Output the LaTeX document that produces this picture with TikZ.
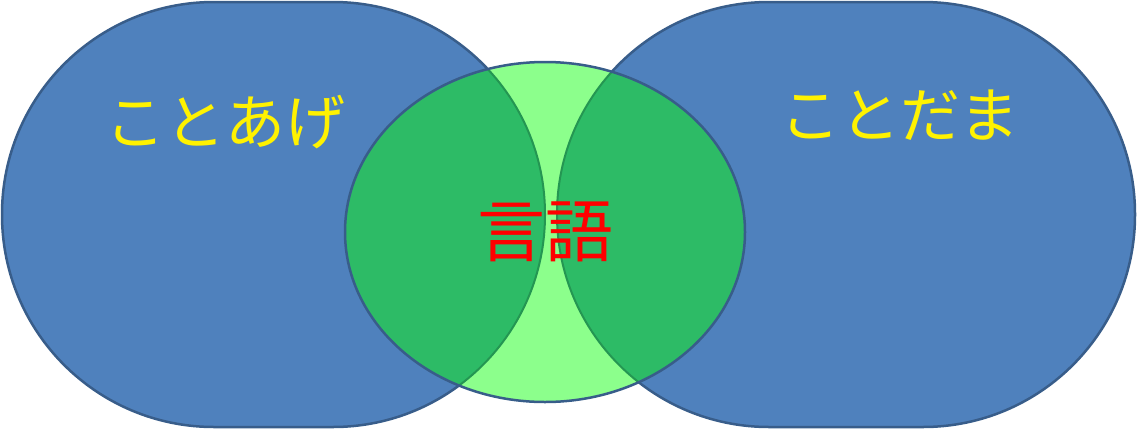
\documentclass[tikz,border=0pt]{standalone}
\usepackage{fontspec}
\newfontfamily\cjk{Noto Sans CJK JP}
\definecolor{bluef}{HTML}{4F81BD}
\definecolor{bluel}{HTML}{385D8A}
\definecolor{lgreen}{HTML}{8CFF8C}
\definecolor{dgreen}{HTML}{2DBB66}
\begin{document}
\begin{tikzpicture}[x=1pt,y=-1pt,
  lab/.style={font=\cjk\fontsize{60}{60}\selectfont,inner sep=0pt}]
\useasboundingbox (0,0) rectangle (1137,429);
\def\leftshape{(2,2) rectangle (545,427)}
\def\rightshape{(557,2) rectangle (1135,427)}
\fill[bluef,rounded corners=212pt] \leftshape;
\fill[bluef,rounded corners=212pt] \rightshape;
\draw[bluel,line width=2.5pt,rounded corners=212pt] \leftshape;
\draw[bluel,line width=2.5pt,rounded corners=212pt] \rightshape;
\fill[lgreen] (545,232) ellipse [x radius=200,y radius=170];
\begin{scope}
\clip (545,232) ellipse [x radius=200,y radius=170];
\fill[dgreen,rounded corners=212pt] \leftshape;
\fill[dgreen,rounded corners=212pt] \rightshape;
\draw[dgreen!80!black,line width=2pt,rounded corners=212pt] \leftshape;
\draw[dgreen!80!black,line width=2pt,rounded corners=212pt] \rightshape;
\end{scope}
\draw[bluel,line width=2.5pt] (545,232) ellipse [x radius=200,y radius=170];
\node[lab,text=yellow] (a) at (225,122) {ことあげ};
\node[lab,text=yellow] (b) at (900,115) {ことだま};
\node[lab,text=red,font=\cjk\fontsize{68}{68}\selectfont] (c) at (545,232) {言語};
\end{tikzpicture}
\end{document}
